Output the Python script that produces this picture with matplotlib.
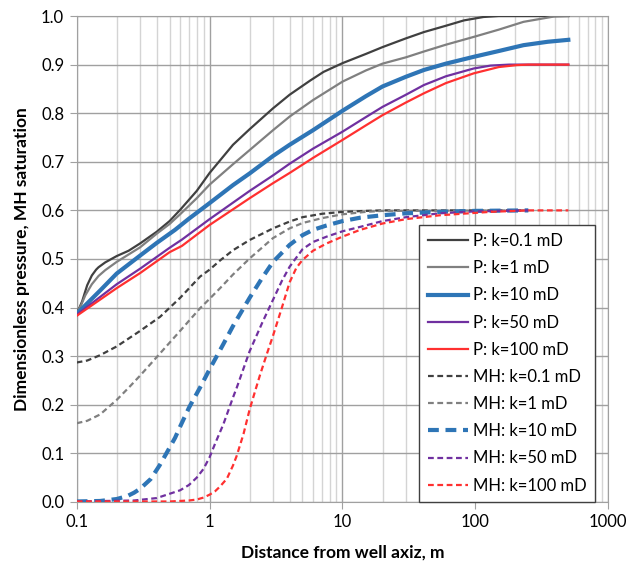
import matplotlib
matplotlib.use("Agg")
import matplotlib.pyplot as plt
from matplotlib.ticker import LogLocator, FixedLocator, NullFormatter

plt.rcParams['font.family'] = ['Lato', 'DejaVu Sans']

# ---- data ----
p01_x = [0.1, 0.105, 0.11, 0.115, 0.12, 0.13, 0.14, 0.146, 0.164, 0.2, 0.246, 0.3, 0.4, 0.5, 0.6, 0.8, 1, 1.5, 2, 3, 4, 5.7, 7.2, 10, 15, 20, 30, 41, 60, 82, 115, 150, 500]
p01_y = [0.39, 0.40, 0.413, 0.43, 0.446, 0.466, 0.478, 0.483, 0.493, 0.506, 0.517, 0.532, 0.556, 0.578, 0.601, 0.64, 0.677, 0.735, 0.767, 0.81, 0.838, 0.867, 0.885, 0.903, 0.922, 0.936, 0.954, 0.967, 0.98, 0.991, 0.998, 1.0, 1.0]

p1_x = [0.1, 0.108, 0.116, 0.13, 0.146, 0.164, 0.2, 0.3, 0.4, 0.5, 0.6, 0.8, 1, 1.5, 2, 3, 4, 6, 10, 15, 20, 30, 41, 60, 97, 150, 230, 390, 500]
p1_y = [0.388, 0.405, 0.425, 0.448, 0.465, 0.477, 0.494, 0.524, 0.552, 0.572, 0.592, 0.625, 0.653, 0.695, 0.724, 0.765, 0.793, 0.827, 0.865, 0.888, 0.902, 0.915, 0.927, 0.941, 0.957, 0.972, 0.988, 0.999, 1.0]

p10_x = [0.1, 0.15, 0.2, 0.3, 0.4, 0.55, 0.7, 1, 1.5, 2, 3, 4, 6, 10, 15, 20, 30, 41, 60, 97, 150, 230, 350, 500]
p10_y = [0.387, 0.435, 0.47, 0.507, 0.533, 0.56, 0.583, 0.615, 0.652, 0.676, 0.712, 0.735, 0.765, 0.805, 0.835, 0.855, 0.875, 0.889, 0.902, 0.916, 0.928, 0.940, 0.947, 0.951]

p50_x = [0.1, 0.2, 0.3, 0.5, 0.62, 1, 2, 3, 4, 6, 10, 15, 20, 30, 41, 60, 97, 130, 180, 500]
p50_y = [0.385, 0.448, 0.48, 0.523, 0.54, 0.582, 0.64, 0.672, 0.696, 0.727, 0.762, 0.792, 0.813, 0.838, 0.858, 0.876, 0.892, 0.898, 0.9, 0.9]

p100_x = [0.1, 0.2, 0.3, 0.5, 0.62, 1, 2, 3, 4, 6, 10, 15, 20, 30, 41, 60, 97, 150, 205, 250, 500]
p100_y = [0.383, 0.44, 0.471, 0.514, 0.527, 0.57, 0.625, 0.656, 0.677, 0.708, 0.745, 0.775, 0.796, 0.822, 0.841, 0.862, 0.882, 0.895, 0.899, 0.9, 0.9]

mh01_x = [0.1, 0.12, 0.15, 0.2, 0.3, 0.424, 0.6, 0.85, 1, 1.2, 1.5, 2, 3, 4, 5, 7, 10, 15, 20, 250]
mh01_y = [0.287, 0.291, 0.302, 0.32, 0.352, 0.381, 0.42, 0.464, 0.478, 0.497, 0.518, 0.539, 0.563, 0.577, 0.586, 0.593, 0.597, 0.599, 0.6, 0.6]

mh1_x = [0.1, 0.12, 0.15, 0.2, 0.25, 0.3, 0.4, 0.6, 0.85, 1, 1.2, 1.5, 2, 3, 4, 5, 7, 10, 15, 20, 250]
mh1_y = [0.162, 0.167, 0.18, 0.21, 0.237, 0.26, 0.298, 0.352, 0.399, 0.418, 0.44, 0.468, 0.501, 0.543, 0.563, 0.574, 0.584, 0.592, 0.597, 0.599, 0.6]

mh10_x = [0.1, 0.15, 0.2, 0.24, 0.27, 0.3, 0.36, 0.42, 0.48, 0.55, 0.6, 0.7, 0.85, 1, 1.27, 1.5, 1.6, 2, 2.5, 3, 4, 5, 6, 7.6, 10, 13.6, 20, 30, 54, 100, 250]
mh10_y = [0.001, 0.002, 0.006, 0.012, 0.019, 0.027, 0.047, 0.075, 0.103, 0.132, 0.155, 0.194, 0.236, 0.273, 0.325, 0.362, 0.375, 0.42, 0.462, 0.494, 0.529, 0.549, 0.56, 0.569, 0.578, 0.585, 0.59, 0.594, 0.597, 0.599, 0.6]

mh50_x = [0.1, 0.27, 0.4, 0.6, 0.7, 0.8, 0.9, 1, 1.1, 1.27, 1.5, 1.6, 2, 2.5, 3, 3.5, 4, 5, 6, 7.6, 10, 14, 20, 30, 54, 100, 250]
mh50_y = [0.001, 0.003, 0.008, 0.024, 0.035, 0.05, 0.068, 0.092, 0.12, 0.16, 0.215, 0.235, 0.31, 0.37, 0.416, 0.455, 0.484, 0.52, 0.535, 0.546, 0.557, 0.567, 0.578, 0.586, 0.594, 0.598, 0.6]

mh100_x = [0.1, 0.5, 0.7, 0.8, 0.9, 1, 1.1, 1.2, 1.35, 1.5, 1.6, 1.8, 2, 2.2, 2.4, 2.7, 3, 3.5, 4, 4.5, 5, 6, 7.6, 10, 13.6, 20, 30, 54, 130, 250, 500]
mh100_y = [0.001, 0.001, 0.003, 0.005, 0.009, 0.015, 0.022, 0.032, 0.048, 0.075, 0.095, 0.14, 0.19, 0.228, 0.262, 0.305, 0.342, 0.40, 0.452, 0.482, 0.498, 0.517, 0.532, 0.546, 0.56, 0.573, 0.582, 0.59, 0.597, 0.6, 0.6]

x_ticks = [0.1, 1, 10, 100, 1000]
x_tick_labels = ['0.1', '1', '10', '100', '1000']
y_ticks = [0.0, 0.1, 0.2, 0.3, 0.4, 0.5, 0.6, 0.7, 0.8, 0.9, 1.0]

C_DARK = '#404040'
C_GRAY = '#808080'
C_BLUE = '#2E75B6'
C_PURP = '#7030A0'
C_RED = '#FF3030'

fig = plt.figure(figsize=(6.3, 5.64), dpi=100)
ax = fig.add_axes([0.1217, 0.110, 0.8439, 0.8616])

DASH = (0, (2.6, 1.6))
series = [
    (p01_x, p01_y, 'P: k=0.1 mD', C_DARK, 1.6, '-'),
    (p1_x, p1_y, 'P: k=1 mD', C_GRAY, 1.6, '-'),
    (p10_x, p10_y, 'P: k=10 mD', C_BLUE, 3.0, '-'),
    (p50_x, p50_y, 'P: k=50 mD', C_PURP, 1.6, '-'),
    (p100_x, p100_y, 'P: k=100 mD', C_RED, 1.6, '-'),
    (mh01_x, mh01_y, 'MH: k=0.1 mD', C_DARK, 1.6, DASH),
    (mh1_x, mh1_y, 'MH: k=1 mD', C_GRAY, 1.6, DASH),
    (mh10_x, mh10_y, 'MH: k=10 mD', C_BLUE, 3.0, DASH),
    (mh50_x, mh50_y, 'MH: k=50 mD', C_PURP, 1.6, DASH),
    (mh100_x, mh100_y, 'MH: k=100 mD', C_RED, 1.6, DASH),
]
for xs, ys, lab, c, lw, ls in series:
    ax.plot(xs, ys, color=c, lw=lw, ls=ls, label=lab, zorder=3,
            solid_joinstyle='round', dash_joinstyle='round')

ax.set_xscale('log')
ax.set_xlim(0.1, 1000)
ax.set_ylim(0, 1.0)

ax.xaxis.set_major_locator(FixedLocator(x_ticks))
ax.set_xticklabels(x_tick_labels)
ax.xaxis.set_minor_locator(LogLocator(base=10, subs=[2, 3, 4, 5, 6, 7, 8, 9]))
ax.xaxis.set_minor_formatter(NullFormatter())
ax.set_yticks(y_ticks)
ax.set_yticklabels([f'{v:.1f}' for v in y_ticks])

ax.grid(True, which='major', axis='both', color='#A0A0A0', lw=1.0, zorder=0)
ax.grid(True, which='minor', axis='x', color='#D4D4D4', lw=1.0, zorder=0)
ax.set_axisbelow(True)

for s in ['top', 'right', 'left', 'bottom']:
    ax.spines[s].set_color('#A0A0A0')
ax.tick_params(axis='both', which='major', direction='out', length=5, color='#A0A0A0',
               labelsize=12, labelcolor='black', pad=4)
ax.tick_params(axis='x', which='minor', length=0)

ax.set_xlabel('Distance from well axiz, m', fontsize=12.5, fontweight='bold', labelpad=10)
ax.set_ylabel('Dimensionless pressure, MH saturation', fontsize=12.5, fontweight='bold', labelpad=8)

leg = ax.legend(loc='lower right', bbox_to_anchor=(0.9745, 0.0), fontsize=12, frameon=True,
                fancybox=False, edgecolor='#404040', framealpha=1.0, handlelength=2.4,
                handletextpad=0.3, labelspacing=0.67, borderpad=0.5, borderaxespad=0.0)
leg.get_frame().set_linewidth(1.0)

fig.savefig('out.png', dpi=100)
